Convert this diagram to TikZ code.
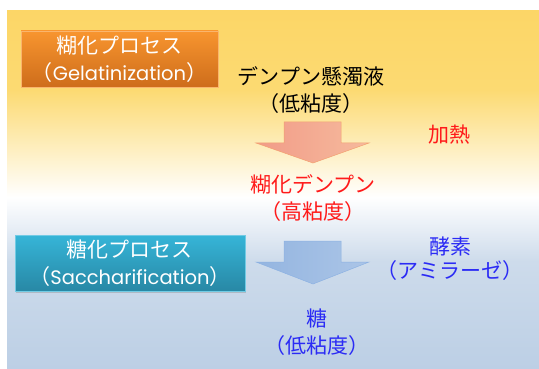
\documentclass[tikz,border=0pt]{standalone}
\usepackage{fontspec}
\setmainfont{Noto Sans CJK JP}
\newfontfamily\latinwide{Poppins}
\usetikzlibrary{shadows}
\definecolor{bgyellow}{HTML}{FCD667}
\definecolor{bgyellowb}{HTML}{FCDA72}
\definecolor{bgblue}{HTML}{BCCFE5}
\definecolor{bgbluem}{HTML}{CDDBEB}
\definecolor{orgtop}{HTML}{F8952F}
\definecolor{orgbot}{HTML}{CE6D1B}
\definecolor{tealtop}{HTML}{36B5D8}
\definecolor{tealbot}{HTML}{2888A5}
\definecolor{salL}{HTML}{F19C88}
\definecolor{salR}{HTML}{F6BA9D}
\definecolor{salB}{HTML}{F3A070}
\definecolor{bluL}{HTML}{94B5E0}
\definecolor{bluR}{HTML}{ABC5E7}
\definecolor{bluB}{HTML}{8DB2E3}
\definecolor{txtblue}{HTML}{2B2BF5}
\definecolor{txtred}{HTML}{FF1A1A}
\pgfdeclareverticalshading{bgshade}{100bp}{%
  color(0bp)=(bgblue); color(25bp)=(bgblue); color(40bp)=(bgbluem);
  color(49bp)=(white); color(64bp)=(bgyellowb); color(75bp)=(bgyellow); color(100bp)=(bgyellow)}
\tikzset{
  lbl/.style={font=\fontsize{21}{27}\selectfont, align=center, inner sep=0pt},
  procbox/.style={lbl, text=white, minimum height=56pt, draw=#1top!70!white, line width=0.4pt,
     drop shadow={opacity=0.35, shadow xshift=1.2pt, shadow yshift=-1.5pt}},
  salarrow/.style={left color=salL, right color=salR, draw=salB, line width=0.5pt, line join=miter},
  bluarrow/.style={left color=bluL, right color=bluR, draw=bluB, line width=0.5pt, line join=miter}
}
\begin{document}
\begin{tikzpicture}[x=1pt,y=-1pt]
\useasboundingbox (0,0) rectangle (539,369);
\fill[shading=bgshade] (7,11) rectangle (539,369);
% process boxes
\node[procbox=org, top color=orgtop, bottom color=orgbot, minimum width=197pt] (gel) at (119.5,59)
  {糊化プロセス\\（{\latinwide\fontsize{19.5}{27}\selectfont Gelatinization}）};
\node[procbox=teal, top color=tealtop, bottom color=tealbot, minimum width=230pt] (sac) at (130,263)
  {糖化プロセス\\（{\latinwide\fontsize{19.5}{27}\selectfont Saccharification}）};
% stage labels
\node[lbl] (starch) at (311,90) {デンプン懸濁液\\（低粘度）};
\node[lbl, text=txtred] (gelst) at (313,198.5) {糊化デンプン\\（高粘度）};
\node[lbl, text=txtblue] (sugar) at (317,332) {糖\\（低粘度）};
\node[lbl, text=txtred] (heat) at (449,135) {加熱};
\node[lbl, text=txtblue, font=\fontsize{21}{24}\selectfont] (enz) at (450,259) {酵素\\（アミラーゼ）};
% block arrows
\draw[salarrow] (284,122) -- (341,122) -- (341,143) -- (369,143) -- (313,163) -- (256,143) -- (284,143) -- cycle;
\draw[bluarrow] (284,241) -- (341,241) -- (341,262) -- (369,262) -- (313,284) -- (256,262) -- (284,262) -- cycle;
\end{tikzpicture}
\end{document}
